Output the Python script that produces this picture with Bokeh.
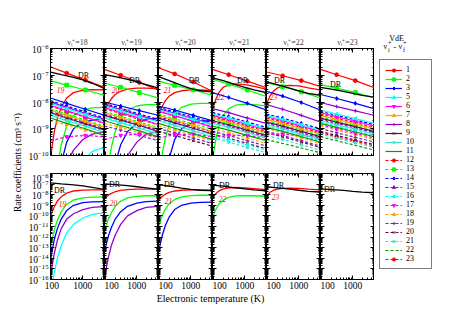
import math
import numpy as np
from bokeh.plotting import figure
from bokeh.models import (LogAxis, FixedTicker, PrintfTickFormatter, CustomJSTickFormatter,
                          Range1d, Legend, LegendItem)
from bokeh.layouts import row, column
from bokeh.embed import file_html
from bokeh.resources import INLINE
from bokeh.core.properties import value

FONT = "Liberation Serif"

# ---------------- data (log10 of rate coefficient, cm^3 s^-1) ----------------
PANELS = [18, 19, 20, 21, 22, 23]
T_VDE = [90, 300, 1200, 5000]
T_RISE = [90, 100, 120, 150, 200, 300, 500, 1000, 2000, 5000]
T_DR = [90, 200, 500, 1000, 2000, 5000]

IDS = [1, 2, 3, 5, 6, 7, 8, 9, 10, 11, 12, 13, 14, 15, 16, 17, 18, 19, 20, 21, 22, 23]
COLORS = ["#ff0000", "#00ff00", "#0000ff", "#00ffff", "#ff00ff", "#ffa500", "#9400d3",
          "#670748", "#40e0d0", "#00a000",
          "#ff0000", "#00ff00", "#0000ff", "#9400d3", "#00ffff", "#ff00ff", "#ffa500",
          "#7220bc", "#670748", "#40e0d0", "#00a000", "#ff0000"]
DASHED = [False] * 10 + [True] * 12
MARKERS = ["circle", "square", "diamond", "triangle", "inverted_triangle", "triangle", "cross",
           "x", "asterisk", None,
           "circle", "square", "diamond", "triangle", "triangle", "inverted_triangle", "triangle",
           "cross", "x", "asterisk", None, "circle"]
ANGLES = [0, 0, 0, 90, 0, -90, 0, 0, 0, 0,
          0, 0, 0, 0, 90, 0, -90, 0, 0, 0, 0, 0]

VDE_18 = [
    [-6.68, -6.92, -7.18, -7.45], [-7.20, -7.37, -7.55, -7.75], [-7.85, -8.05, -8.27, -8.50],
    [-8.05, -8.25, -8.47, -8.70], [-8.12, -8.32, -8.55, -8.80], [-8.30, -8.50, -8.72, -8.95],
    [-8.00, -8.20, -8.42, -8.65], [-8.40, -8.60, -8.82, -9.05], [-8.50, -8.70, -8.90, -9.15],
    [-8.60, -8.80, -9.00, -9.25], [-8.15, -8.35, -8.57, -8.80], [-8.25, -8.45, -8.67, -8.90],
    [-7.95, -8.15, -8.37, -8.60], [-8.35, -8.55, -8.77, -9.00], [-8.45, -8.65, -8.87, -9.10],
    [-9.45, -9.30, -9.25, -9.30], [-8.70, -8.85, -9.05, -9.25],
]
VDE_19 = [
    [-6.78, -7.00, -7.27, -7.55], [-7.30, -7.45, -7.65, -7.85], [-8.00, -8.15, -8.32, -8.50],
    [-8.15, -8.33, -8.55, -8.75], [-8.20, -8.40, -8.60, -8.85], [-8.40, -8.58, -8.80, -9.00],
    [-8.10, -8.28, -8.50, -8.70], [-8.50, -8.68, -8.88, -9.10], [-8.60, -8.78, -8.98, -9.20],
    [-8.70, -8.88, -9.08, -9.30], [-8.25, -8.43, -8.65, -8.85], [-8.35, -8.53, -8.75, -8.95],
    [-8.05, -8.23, -8.45, -8.65], [-8.45, -8.63, -8.85, -9.05], [-8.55, -8.73, -8.95, -9.15],
    [-9.40, -9.25, -9.20, -9.30], [-8.80, -8.95, -9.15, -9.35], [-8.90, -9.05, -9.25, -9.45],
]
VDE_20 = [
    [-6.72, -6.95, -7.25, -7.60], [-7.22, -7.38, -7.55, -7.75], [-8.15, -8.30, -8.50, -8.70],
    [-8.30, -8.45, -8.65, -8.85], [-8.35, -8.52, -8.72, -8.95], [-8.50, -8.68, -8.88, -9.10],
    [-8.25, -8.42, -8.62, -8.85], [-8.60, -8.78, -8.98, -9.20], [-8.70, -8.88, -9.08, -9.30],
    [-8.80, -8.98, -9.18, -9.40], [-8.35, -8.52, -8.72, -8.92], [-8.45, -8.62, -8.82, -9.02],
    [-8.20, -8.37, -8.57, -8.78], [-8.55, -8.72, -8.92, -9.12], [-8.65, -8.82, -9.02, -9.22],
    [-9.35, -9.22, -9.20, -9.30], [-8.90, -9.05, -9.25, -9.45], [-9.00, -9.15, -9.35, -9.55],
    [-9.10, -9.25, -9.45, -9.65],
]
VDE_21 = [
    [-6.78, -6.98, -7.22, -7.47], [-7.15, -7.33, -7.55, -7.80], [-7.65, -7.83, -8.05, -8.30],
    [-8.45, -8.60, -8.80, -9.00], [-8.50, -8.65, -8.85, -9.05], [-8.60, -8.75, -8.95, -9.15],
    [-8.25, -8.40, -8.60, -8.80], [-8.70, -8.85, -9.05, -9.25], [-8.80, -8.95, -9.15, -9.35],
    [-8.90, -9.05, -9.25, -9.45], [-8.55, -8.70, -8.90, -9.10], [-8.65, -8.80, -9.00, -9.20],
    [-8.40, -8.55, -8.75, -8.95], [-8.75, -8.90, -9.10, -9.30], [-9.30, -9.42, -9.60, -9.80],
    [-9.30, -9.25, -9.25, -9.35], [-9.00, -9.15, -9.35, -9.55], [-9.10, -9.25, -9.45, -9.65],
    [-9.20, -9.35, -9.55, -9.75], [-9.35, -9.50, -9.70, -9.90],
]
VDE_22 = [
    [-6.88, -7.02, -7.20, -7.42], [-7.28, -7.43, -7.62, -7.85], [-7.60, -7.78, -8.02, -8.30],
    [-8.50, -8.65, -8.85, -9.05], [-8.55, -8.70, -8.90, -9.10], [-8.65, -8.80, -9.00, -9.20],
    [-8.10, -8.27, -8.50, -8.75], [-8.75, -8.90, -9.10, -9.30], [-8.85, -9.00, -9.20, -9.40],
    [-8.95, -9.10, -9.30, -9.50], [-8.60, -8.75, -8.95, -9.15], [-8.70, -8.85, -9.05, -9.25],
    [-8.45, -8.60, -8.80, -9.00], [-8.80, -8.95, -9.15, -9.35], [-8.90, -9.05, -9.25, -9.45],
    [-9.20, -9.20, -9.25, -9.35], [-9.00, -9.15, -9.35, -9.55], [-9.10, -9.25, -9.45, -9.65],
    [-9.15, -9.30, -9.50, -9.70], [-9.25, -9.40, -9.60, -9.80], [-9.40, -9.55, -9.72, -9.90],
]
VDE_23 = [
    [-6.78, -6.98, -7.20, -7.47], [-7.35, -7.48, -7.65, -7.85], [-7.72, -7.87, -8.05, -8.25],
    [-8.30, -8.45, -8.62, -8.80], [-8.40, -8.55, -8.72, -8.90], [-8.50, -8.65, -8.82, -9.00],
    [-8.02, -8.17, -8.33, -8.50], [-8.60, -8.75, -8.92, -9.10], [-8.70, -8.85, -9.02, -9.20],
    [-8.80, -8.95, -9.12, -9.30], [-8.45, -8.60, -8.77, -8.95], [-8.55, -8.70, -8.87, -9.05],
    [-8.35, -8.50, -8.67, -8.85], [-8.65, -8.80, -8.97, -9.15], [-8.75, -8.90, -9.07, -9.25],
    [-8.85, -9.00, -9.17, -9.35], [-8.90, -9.05, -9.22, -9.40], [-9.00, -9.15, -9.32, -9.50],
    [-9.10, -9.25, -9.42, -9.60], [-9.20, -9.35, -9.52, -9.70], [-9.30, -9.45, -9.62, -9.80],
    [-9.15, -9.30, -9.47, -9.65],
]
VDE = [VDE_18, VDE_19, VDE_20, VDE_21, VDE_22, VDE_23]

DR_18 = [-6.88, -6.98, -7.08, -7.17, -7.30, -7.50]
DR_19 = [-6.98, -7.05, -7.15, -7.25, -7.35, -7.48]
DR_20 = [-7.05, -7.20, -7.38, -7.50, -7.58, -7.62]
DR_21 = [-7.10, -7.20, -7.35, -7.45, -7.55, -7.65]
DR_22 = [-7.25, -7.35, -7.48, -7.58, -7.68, -7.75]
DR_23 = [-7.45, -7.52, -7.60, -7.68, -7.75, -7.82]
DR = [DR_18, DR_19, DR_20, DR_21, DR_22, DR_23]

RISE_COLORS = ["#ff0000", "#00ff00", "#0000ff", "#9400d3", "#00ffff"]
RISE_18 = [
    [-10.2, -9.7, -9.1, -8.6, -8.2, -7.85, -7.65, -7.56, -7.54, -7.55],
    [-13.1, -12.4, -11.3, -10.4, -9.6, -8.9, -8.5, -8.3, -8.22, -8.2],
    [-14.2, -13.4, -12.2, -11.2, -10.3, -9.5, -9.0, -8.75, -8.68, -8.65],
    [-15.6, -14.8, -13.5, -12.3, -11.2, -10.3, -9.8, -9.4, -9.2, -9.12],
    [-17.6, -16.7, -15.3, -14.0, -12.8, -11.6, -10.8, -10.2, -9.85, -9.7],
]
RISE_19 = [
    [-8.4, -8.25, -8.05, -7.88, -7.72, -7.6, -7.52, -7.48, -7.48, -7.5],
    [-11.5, -11.0, -10.3, -9.7, -9.1, -8.6, -8.3, -8.15, -8.1, -8.1],
    [-13.4, -12.8, -11.9, -11.1, -10.3, -9.6, -9.1, -8.8, -8.65, -8.6],
    [-15.9, -15.1, -13.9, -12.8, -11.8, -10.8, -10.0, -9.5, -9.2, -9.1],
]
RISE_20 = [
    [-8.6, -8.4, -8.15, -7.95, -7.78, -7.65, -7.58, -7.55, -7.55, -7.58],
    [-11.1, -10.6, -9.9, -9.35, -8.85, -8.45, -8.2, -8.08, -8.05, -8.05],
    [-13.5, -12.8, -11.8, -10.9, -10.1, -9.4, -9.0, -8.8, -8.72, -8.7],
]
RISE_21 = [
    [-8.3, -8.1, -7.85, -7.62, -7.45, -7.35, -7.32, -7.35, -7.42, -7.52],
    [-10.2, -9.8, -9.3, -8.85, -8.5, -8.25, -8.12, -8.08, -8.1, -8.15],
]
RISE_22 = [
    [-8.1, -7.95, -7.75, -7.6, -7.48, -7.4, -7.38, -7.4, -7.47, -7.55],
]
RISE_23 = []
RISE = [RISE_18, RISE_19, RISE_20, RISE_21, RISE_22, RISE_23]
RISE_LABELS = ["19", "20", "21", "22", "23", ""]

# annotation anchor points (T, log10 k)
DR_LABEL_TOP = [(1045, -7.0), (840, -7.19), (1300, -7.19), (840, -7.19), (238, -7.19), (275, -7.33)]
DR_LABEL_BOT = [(175, -7.6), (190, -7.04), (204, -7.04), (220, -7.13), (220, -7.13), (175, -7.51)]
NUM_LABEL_TOP = [(190, -7.56), (204, -7.56), (175, -7.56), (163, -7.81), (151, -7.81), None]
NUM_LABEL_BOT = [(220, -8.92), (175, -8.83), (190, -8.55), (190, -8.36), (175, -8.17), None]

X_TICKS = [100, 1000]
X_MINOR = [200, 300, 400, 500, 600, 700, 800, 900, 2000, 3000, 4000, 5000]


def decades(lo, hi):
    return [10.0 ** k for k in range(lo, hi + 1)]


def minors(lo, hi):
    return [m * 10.0 ** k for k in range(lo, hi) for m in range(2, 10)]


def style_axis(ax, ticks, minor, labels, fmt=None, size="9.5px"):
    ax.ticker = FixedTicker(ticks=ticks, minor_ticks=minor)
    ax.major_tick_in = 4
    ax.major_tick_out = 0
    ax.minor_tick_in = 2
    ax.minor_tick_out = 0
    ax.axis_line_color = "black"
    ax.major_tick_line_color = "black"
    ax.minor_tick_line_color = "black"
    if labels:
        if fmt is not None:
            ax.formatter = fmt
        ax.major_label_text_font = FONT
        ax.major_label_text_font_size = size
        ax.major_label_text_color = "black"
        ax.major_label_standoff = 2
    else:
        ax.formatter = CustomJSTickFormatter(code="return ''")
        ax.major_label_standoff = 0
        ax.major_label_text_font_size = "1px"


def make_panel(top, ci):
    nu = PANELS[ci]
    ylo, yhi = (-10, -6) if top else (-16, -6)
    p = figure(x_axis_type="log", y_axis_type="log",
               x_range=Range1d(90, 5000), y_range=Range1d(10.0 ** ylo, 10.0 ** yhi),
               frame_width=54, frame_height=107 if top else 106,
               toolbar_location=None, output_backend="svg",
               min_border_left=28 if ci == 0 else 0, min_border_right=0,
               min_border_top=48 if top else 0, min_border_bottom=18 if top else 13,
               title=(f"ν\u1d62\u207a={nu}" if top else None))
    p.grid.visible = False
    p.outline_line_color = "black"
    p.background_fill_color = "white"
    p.border_fill_color = "white"
    if top:
        p.title.align = "center"
        p.title.text_font = FONT
        p.title.text_font_size = "8px"
        p.title.text_font_style = "normal"
        p.title.standoff = 3

    yt, ym = decades(ylo, yhi), minors(ylo, yhi)
    style_axis(p.xaxis[0], X_TICKS, X_MINOR, not top, PrintfTickFormatter(format="%d"))
    style_axis(p.yaxis[0], yt, ym, ci == 0, size="9.5px")
    ra = LogAxis()
    style_axis(ra, yt, ym, False)
    p.add_layout(ra, "right")
    ta = LogAxis()
    style_axis(ta, X_TICKS, X_MINOR, False)
    p.add_layout(ta, "above")

    # rising curves
    for j, vals in enumerate(RISE[ci]):
        p.line(T_RISE, 10.0 ** np.array(vals), line_color=RISE_COLORS[j], line_width=1.3)

    # VdE curves
    if top:
        rows = VDE[ci]
        for i in range(len(rows) - 1, -1, -1):
            y = 10.0 ** np.array(rows[i])
            dash = "3 2" if DASHED[i] else "solid"
            p.line(T_VDE, y, line_color=COLORS[i], line_width=1.2, line_dash=dash)
            if MARKERS[i]:
                p.scatter(T_VDE[1:3], y[1:3], marker=MARKERS[i], size=3.8,
                          angle=ANGLES[i], angle_units="deg",
                          fill_color=COLORS[i], line_color=COLORS[i], line_width=1)

    # DR
    p.line(T_DR, 10.0 ** np.array(DR[ci]), line_color="black", line_width=1.3)
    lt, lk = (DR_LABEL_TOP if top else DR_LABEL_BOT)[ci]
    p.text(x=[lt], y=[10.0 ** lk], text=["DR"], text_font=value(FONT),
           text_font_size="8px", text_align="center", text_baseline="middle",
           text_color="black")
    nl = (NUM_LABEL_TOP if top else NUM_LABEL_BOT)[ci]
    if nl is not None:
        p.text(x=[nl[0]], y=[10.0 ** nl[1]], text=[RISE_LABELS[ci]], text_font=value(FONT),
               text_font_size="7.5px", text_font_style="italic", text_align="center",
               text_baseline="middle", text_color="#ff0000")
    return p


tops = [make_panel(True, i) for i in range(6)]
bots = [make_panel(False, i) for i in range(6)]

H = 306

# x-axis title
xl = figure(width=352, height=14, x_range=Range1d(0, 352), y_range=Range1d(0, 14),
            toolbar_location=None, output_backend="svg", min_border=0,
            x_axis_location=None, y_axis_location=None)
xl.grid.visible = False
xl.outline_line_color = None
xl.text(x=[188], y=[8], text=["Electronic temperature (K)"], text_font=value(FONT),
        text_font_size="10px", text_align="center", text_baseline="middle", text_color="black")

# y-axis title
yl = figure(width=22, height=H, x_range=Range1d(0, 22), y_range=Range1d(0, H),
            toolbar_location=None, output_backend="svg", min_border=0,
            x_axis_location=None, y_axis_location=None)
yl.grid.visible = False
yl.outline_line_color = None
yl.text(x=[17], y=[144], text=["Rate coefficients (cm\u00b3 s\u207b\u00b9)"], angle=math.pi / 2,
        text_font=value(FONT), text_font_size="9.5px", text_align="center",
        text_baseline="middle", text_color="black")

# legend
lf = figure(width=70, height=H, x_range=Range1d(0, 70), y_range=Range1d(0, H),
            toolbar_location=None, output_backend="svg", min_border=0,
            x_axis_location=None, y_axis_location=None)
lf.grid.visible = False
lf.outline_line_color = None
items = []
for i, sid in enumerate(IDS):
    dash = "3 2" if DASHED[i] else "solid"
    rs = [lf.line([-50, -40], [-50, -40], line_color=COLORS[i], line_width=1.2, line_dash=dash)]
    if MARKERS[i]:
        rs.append(lf.scatter([-45], [-45], marker=MARKERS[i], size=3.8, angle=ANGLES[i],
                             angle_units="deg", fill_color=COLORS[i], line_color=COLORS[i]))
    items.append(LegendItem(label=str(sid), renderers=rs))
leg = Legend(items=items, location=(5, 37), border_line_color="black", border_line_width=1,
             background_fill_color="white", background_fill_alpha=1,
             label_text_font=FONT, label_text_font_size="8px", label_text_color="black",
             glyph_width=17, glyph_height=8,
             label_height=8, spacing=0, padding=5, label_standoff=4, margin=0)
lf.add_layout(leg)
lf.text(x=[22], y=[268], text=["VdE"], text_font=value(FONT), text_font_size="8px",
        text_align="center", text_baseline="middle", text_color="black")
HDR_TXT = ["ν", "+", "i", "-", "ν", "+", "f"]
HDR_DX = [9, 13.5, 13.5, 19, 24, 28.5, 28.5]
HDR_DY = [260, 263.5, 257, 260, 260, 263.5, 257]
HDR_SZ = ["8px", "6px", "6px", "8px", "8px", "6px", "6px"]
lf.text(x=HDR_DX, y=HDR_DY, text=HDR_TXT, text_font=value(FONT), text_font_size=HDR_SZ,
        text_align="left", text_baseline="middle", text_color="black")

layout = row(yl, column(row(*tops), row(*bots), xl), lf)
open("out.html", "w").write(file_html(layout, INLINE))
